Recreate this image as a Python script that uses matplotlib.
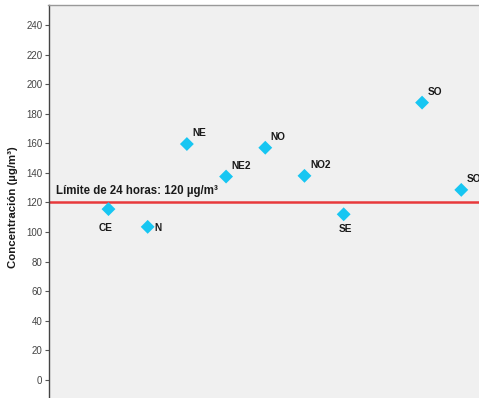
import matplotlib
matplotlib.use('Agg')
import matplotlib.pyplot as plt

# station labels and concentrations (ug/m3); the slot after SE is empty
stations = ['CE', 'N', 'NE', 'NE2', 'NO', 'NO2', 'SE', 'SO', 'SO2']
positions = [0, 1, 2, 3, 4, 5, 6, 8, 9]
values = [115.5, 103.5, 159.5, 137.5, 157, 138, 112, 187.5, 128.5]
limit_24h = 120
yticks = [0, 20, 40, 60, 80, 100, 120, 140, 160, 180, 200, 220, 240]

# label placement per point: (dx, dy) in points, ha, va
label_pos = {
    'CE': (-2, -10, 'center', 'top'),
    'N': (5, -1, 'left', 'center'),
    'SE': (1, -7, 'center', 'top'),
}

W, H = 479, 398
fig = plt.figure(figsize=(W / 100, H / 100), dpi=100)
fig.patch.set_facecolor('white')

ymin, ymax = -14, 253.5
px_per_unit = 1.479
top_px = 5
bottom_px = top_px + (ymax - ymin) * px_per_unit
left_px = 48.5
right_px = 490
ax = fig.add_axes([left_px / W, 1 - bottom_px / H,
                   (right_px - left_px) / W, (bottom_px - top_px) / H])
ax.set_facecolor('#f0f0f0')

ax.scatter(positions, values, marker='D', s=50, color='#17c6f2',
           edgecolors='none', zorder=3)
ax.axhline(limit_24h, color='#e8393b', linewidth=1.8, zorder=2)
ax.text(-1.35, limit_24h + 4, 'Límite de 24 horas: 120 µg/m³',
        fontsize=8.3, fontweight='bold', family='Liberation Sans',
        color='#1a1a1a', va='bottom', ha='left')

for name, x, y in zip(stations, positions, values):
    dx, dy, ha, va = label_pos.get(name, (4, 4, 'left', 'bottom'))
    ax.annotate(name, (x, y), xytext=(dx, dy), textcoords='offset points',
                ha=ha, va=va, fontsize=7.3, fontweight='bold',
                family='Liberation Sans', color='#1a1a1a')

ax.set_ylim(ymin, ymax)
ax.set_xlim(-1.53, -1.53 + (right_px - left_px) / 39.2)
ax.set_yticks(yticks)
ax.set_xticks([])
ax.tick_params(axis='y', length=3, width=0.8, color='#555555',
               labelsize=7, labelcolor='#444444', pad=1.5)
for lab in ax.get_yticklabels():
    lab.set_family('Liberation Sans')

for side in ['right', 'bottom']:
    ax.spines[side].set_visible(False)
ax.spines['left'].set_color('#444444')
ax.spines['left'].set_linewidth(1.0)
ax.spines['top'].set_color('#999999')
ax.spines['top'].set_linewidth(1.0)

ax.set_ylabel('Concentración (µg/m³)', fontsize=8.2, fontweight='bold',
              family='Liberation Sans', color='#1a1a1a')
ax.yaxis.set_label_coords(-30 / (right_px - left_px),
                          (bottom_px - 207) / (bottom_px - top_px))

fig.savefig('out.png', dpi=100)
